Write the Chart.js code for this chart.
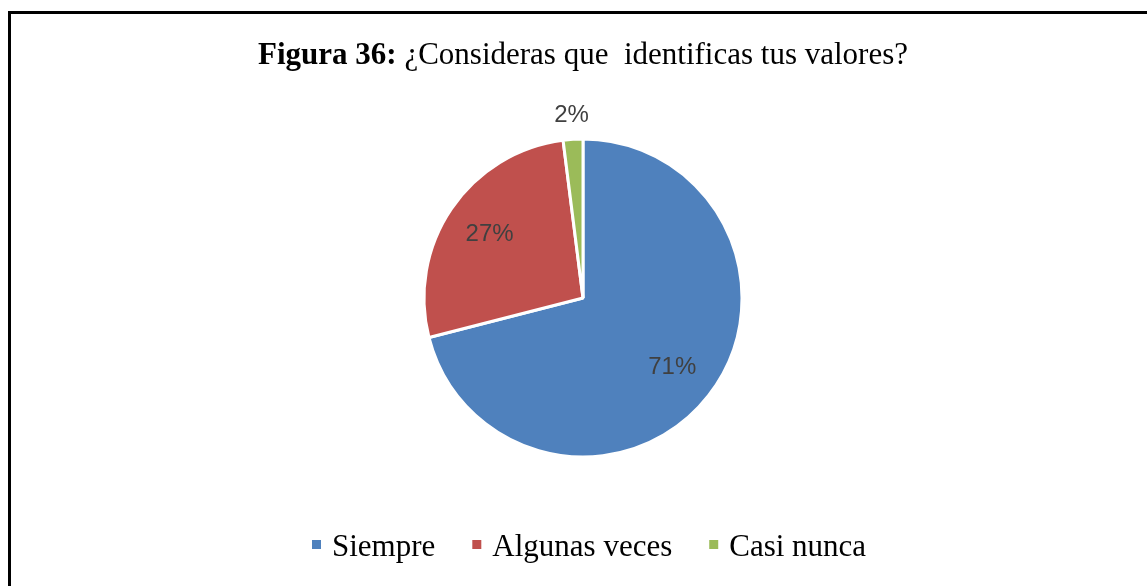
<!DOCTYPE html>
<html>
<head>
<meta charset="utf-8">
<script src="https://cdn.jsdelivr.net/npm/chart.js@4.4.1/dist/chart.umd.min.js"></script>
<style>
  html, body { margin: 0; padding: 0; background: #fff; }
  #wrap { position: relative; width: 1147px; height: 586px; overflow: hidden; }
  #frame {
    position: absolute; left: 8px; top: 11px; width: 1200px; height: 700px;
    border-top: 3px solid #000; border-left: 3px solid #000;
  }
  canvas { position: absolute; left: 0; top: 0; }
</style>
</head>
<body>
<div id="wrap">
  <div id="frame"></div>
  <canvas id="pie"></canvas>
</div>
<script>
// -------------------- DATA --------------------
const categories = ["Siempre", "Algunas veces", "Casi nunca"];
const percentValues = [71, 27, 2];
const sliceColors = ["#4F81BD", "#C0504D", "#9BBB59"];
const titleBold = "Figura 36:";
const titleText = " ¿Consideras que  identificas tus valores?";

// -------------------- PLUGINS --------------------
const titlePlugin = {
  id: "mixedTitle",
  afterDraw(chart) {
    const ctx = chart.ctx;
    ctx.save();
    ctx.textBaseline = "alphabetic";
    ctx.fillStyle = "#000";
    ctx.font = "bold 31px 'Liberation Serif'";
    const wBold = ctx.measureText(titleBold).width;
    ctx.font = "31px 'Liberation Serif'";
    const wReg = ctx.measureText(titleText).width;
    let x = 583 - (wBold + wReg) / 2;
    ctx.font = "bold 31px 'Liberation Serif'";
    ctx.fillText(titleBold, x, 64);
    ctx.font = "31px 'Liberation Serif'";
    ctx.fillText(titleText, x + wBold, 64);
    ctx.restore();
  }
};

const sliceLabels = {
  id: "sliceLabels",
  afterDatasetsDraw(chart) {
    const ctx = chart.ctx;
    const meta = chart.getDatasetMeta(0);
    ctx.save();
    ctx.font = "24px 'Liberation Sans'";
    ctx.fillStyle = "#404040";
    ctx.textAlign = "center";
    ctx.textBaseline = "middle";
    meta.data.forEach((arc, i) => {
      const { x, y, startAngle, endAngle, outerRadius } = arc.getProps(["x", "y", "startAngle", "endAngle", "outerRadius"], true);
      const mid = (startAngle + endAngle) / 2;
      const share = percentValues[i] / 100;
      const dist = share < 0.05 ? outerRadius + 24 : outerRadius * 0.71;
      ctx.fillText(percentValues[i] + "%", x + Math.cos(mid) * dist, y + Math.sin(mid) * dist);
    });
    ctx.restore();
  }
};

const bottomLegend = {
  id: "bottomLegend",
  afterDraw(chart) {
    const ctx = chart.ctx;
    ctx.save();
    ctx.font = "31px 'Liberation Serif'";
    ctx.textBaseline = "alphabetic";
    let x = 312;
    const base = 556;
    categories.forEach((name, i) => {
      ctx.fillStyle = sliceColors[i];
      ctx.fillRect(x, 540, 9, 9);
      ctx.fillStyle = "#000";
      ctx.fillText(name, x + 20, base);
      x += 20 + ctx.measureText(name).width + 37;
    });
    ctx.restore();
  }
};

// -------------------- CHART --------------------
const ctx = document.getElementById("pie").getContext("2d");
document.getElementById("pie").width = 1147;
document.getElementById("pie").height = 586;

new Chart(ctx, {
  type: "pie",
  data: {
    labels: categories,
    datasets: [{
      data: percentValues,
      backgroundColor: sliceColors,
      borderColor: "#fff",
      borderWidth: 3,
      radius: 159
    }]
  },
  options: {
    responsive: false,
    animation: false,
    layout: { padding: { left: 19, right: 0, top: 100, bottom: 90 } },
    plugins: {
      legend: { display: false },
      title: { display: false },
      tooltip: { enabled: false }
    }
  },
  plugins: [titlePlugin, sliceLabels, bottomLegend]
});
</script>
</body>
</html>
